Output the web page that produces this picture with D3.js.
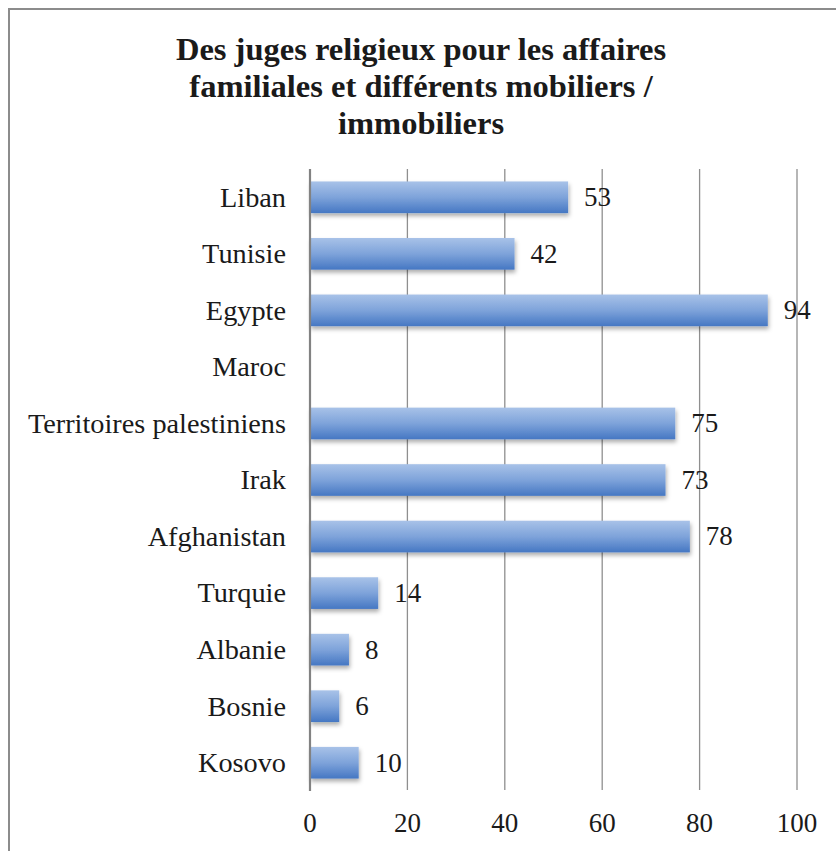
<!DOCTYPE html>
<html><head><meta charset="utf-8">
<script src="https://cdn.jsdelivr.net/npm/d3@7"></script>
<style>body{margin:0;background:#fff}svg{display:block}</style>
</head><body>
<script>
const categories = ["Liban","Tunisie","Egypte","Maroc","Territoires palestiniens","Irak","Afghanistan","Turquie","Albanie","Bosnie","Kosovo"];
const values = [53,42,94,null,75,73,78,14,8,6,10];
const xTicks = [0,20,40,60,80,100];
const titleLines = ["Des juges religieux pour les affaires","familiales et différents mobiliers /","immobiliers"];

const W=836,H=851;
const svg=d3.select("body").append("svg").attr("width",W).attr("height",H);
const defs=svg.append("defs");
const g=defs.append("linearGradient").attr("id","bg").attr("x1",0).attr("y1",0).attr("x2",0).attr("y2",1);
g.append("stop").attr("offset","0%").attr("stop-color","#a8c2e8");
g.append("stop").attr("offset","50%").attr("stop-color","#7ea3da");
g.append("stop").attr("offset","100%").attr("stop-color","#4577c3");
const f=defs.append("filter").attr("id","sh").attr("x","-10%").attr("y","-20%").attr("width","130%").attr("height","160%");
f.append("feDropShadow").attr("dx",1).attr("dy",3).attr("stdDeviation",2).attr("flood-color","#000").attr("flood-opacity",0.32);

// frame
svg.append("rect").attr("x",9).attr("y",9).attr("width",W).attr("height",H).attr("fill","none").attr("stroke","#8c8c8c").attr("stroke-width",2);

const serif="'Liberation Serif', 'DejaVu Serif', serif";
const x=d3.scaleLinear().domain([0,100]).range([310,797]);
const y=d3.scaleBand().domain(categories).range([169,791]).paddingInner(0.44).paddingOuter(0.22);

// gridlines
svg.append("g").selectAll("line").data(xTicks.filter(d=>d>0)).join("line")
  .attr("x1",d=>x(d)).attr("x2",d=>x(d)).attr("y1",169).attr("y2",790)
  .attr("stroke","#8f8f8f").attr("stroke-width",1.3);

// bars
const data=categories.map((c,i)=>({c,v:values[i]})).filter(d=>d.v!=null);
svg.append("g").selectAll("rect").data(data).join("rect")
  .attr("x",x(0)).attr("y",d=>y(d.c)).attr("width",d=>x(d.v)-x(0)).attr("height",y.bandwidth())
  .attr("fill","url(#bg)").attr("filter","url(#sh)");

// axis line
svg.append("line").attr("x1",x(0)).attr("x2",x(0)).attr("y1",169).attr("y2",791).attr("stroke","#828282").attr("stroke-width",2.2);

// y labels
svg.append("g").selectAll("text").data(categories).join("text")
  .attr("x",286).attr("y",d=>y(d)+y.bandwidth()/2).attr("dy","0.33em")
  .attr("text-anchor","end").attr("font-family",serif).attr("font-size",28.3).attr("fill","#1a1a1a").text(d=>d);

// value labels
svg.append("g").selectAll("text").data(data).join("text")
  .attr("x",d=>x(d.v)+16).attr("y",d=>y(d.c)+y.bandwidth()/2).attr("dy","0.33em")
  .attr("font-family",serif).attr("font-size",27).attr("fill","#1a1a1a").text(d=>d.v);

// x tick labels
svg.append("g").selectAll("text").data(xTicks).join("text")
  .attr("x",d=>x(d)).attr("y",832).attr("text-anchor","middle")
  .attr("font-family",serif).attr("font-size",27).attr("fill","#1a1a1a").text(d=>d);

// title
svg.append("g").selectAll("text").data(titleLines).join("text")
  .attr("x",421).attr("y",(d,i)=>60+i*37).attr("text-anchor","middle")
  .attr("font-family",serif).attr("font-weight","bold").attr("font-size",32.5).attr("fill","#1a1a1a").text(d=>d);
</script>
</body></html>
